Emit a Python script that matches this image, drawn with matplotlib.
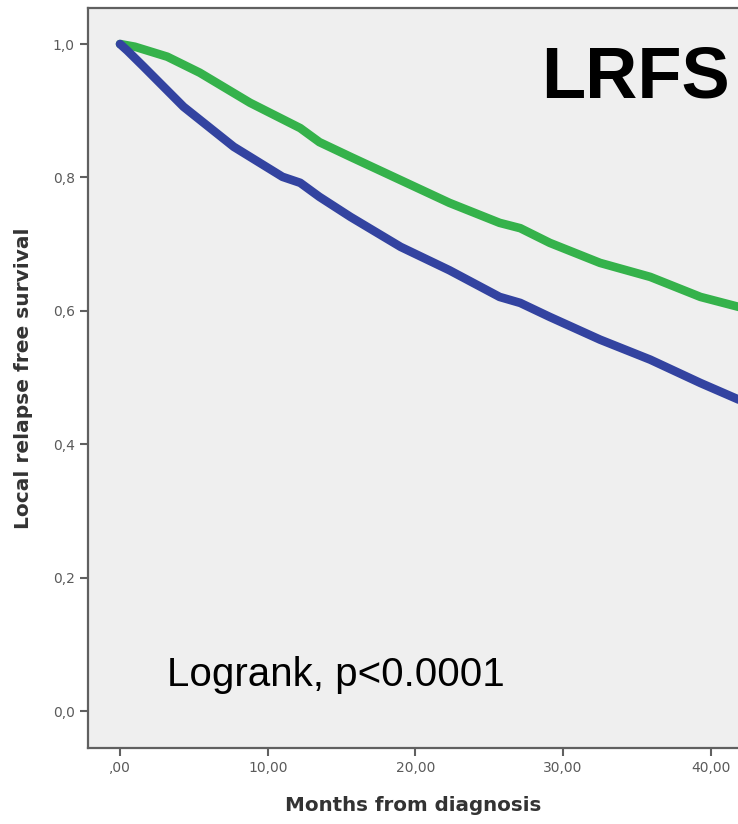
import numpy as np
import matplotlib
matplotlib.use("Agg")
import matplotlib.pyplot as plt

# survival curves (months, proportion)
green_months = [0.0, 1.0, 3.2, 5.4, 8.8, 12.2, 13.5, 15.6, 19.0, 22.3, 25.7, 27.1, 29.1, 32.5, 35.9, 39.3, 41.9]
green_surv = [1.0, 0.996, 0.981, 0.957, 0.912, 0.874, 0.853, 0.831, 0.796, 0.762, 0.732, 0.724, 0.702, 0.672, 0.651, 0.621, 0.606]

blue_months = [0.0, 0.5, 1.6, 4.3, 7.7, 11.0, 12.2, 13.5, 15.6, 19.0, 22.3, 25.7, 27.1, 29.1, 32.5, 35.9, 39.3, 41.9]
blue_surv = [1.0, 0.99, 0.966, 0.906, 0.846, 0.801, 0.792, 0.771, 0.741, 0.696, 0.661, 0.621, 0.612, 0.591, 0.557, 0.527, 0.492, 0.467]

xticks = [0, 10, 20, 30, 40]
xtick_labels = [",00", "10,00", "20,00", "30,00", "40,00"]
yticks = [0.0, 0.2, 0.4, 0.6, 0.8, 1.0]
ytick_labels = ["0,0", "0,2", "0,4", "0,6", "0,8", "1,0"]

fig = plt.figure(figsize=(7.38, 8.24), dpi=100)
ax = fig.add_axes([0.1192, 0.0922, 0.8808, 0.8981])
ax.set_facecolor("#efefef")

ax.plot(green_months, green_surv, color="#35b24b", lw=6.2, solid_capstyle="round")
ax.plot(blue_months, blue_surv, color="#3343a0", lw=6.2, solid_capstyle="round")

ax.set_xlim(-2.17, 41.84)
ax.set_ylim(-0.055, 1.054)

ax.set_xticks(xticks)
ax.set_xticklabels(xtick_labels)
ax.set_yticks(yticks)
ax.set_yticklabels(ytick_labels)
ax.tick_params(axis="both", colors="#606060", labelcolor="#5a5a5a", labelsize=10,
               width=1.5, length=6)

for s in ["left", "bottom", "top"]:
    ax.spines[s].set_color("#606060")
    ax.spines[s].set_linewidth(1.6)
ax.spines["right"].set_visible(False)

ax.set_xlabel("Months from diagnosis", fontsize=14.3, fontweight="bold", color="#333333", labelpad=15)
ax.set_ylabel("Local relapse free survival", fontsize=14.5, fontweight="bold", color="#333333", labelpad=14)

ax.text(0.988, 0.905, "LRFS", transform=ax.transAxes, ha="right", va="center",
        fontsize=52, fontweight="bold", family="Liberation Sans")
ax.text(0.1215, 0.0986, "Logrank, p<0.0001", transform=ax.transAxes, ha="left", va="center",
        fontsize=29, family="Liberation Sans")

fig.savefig("out.png", dpi=100)
